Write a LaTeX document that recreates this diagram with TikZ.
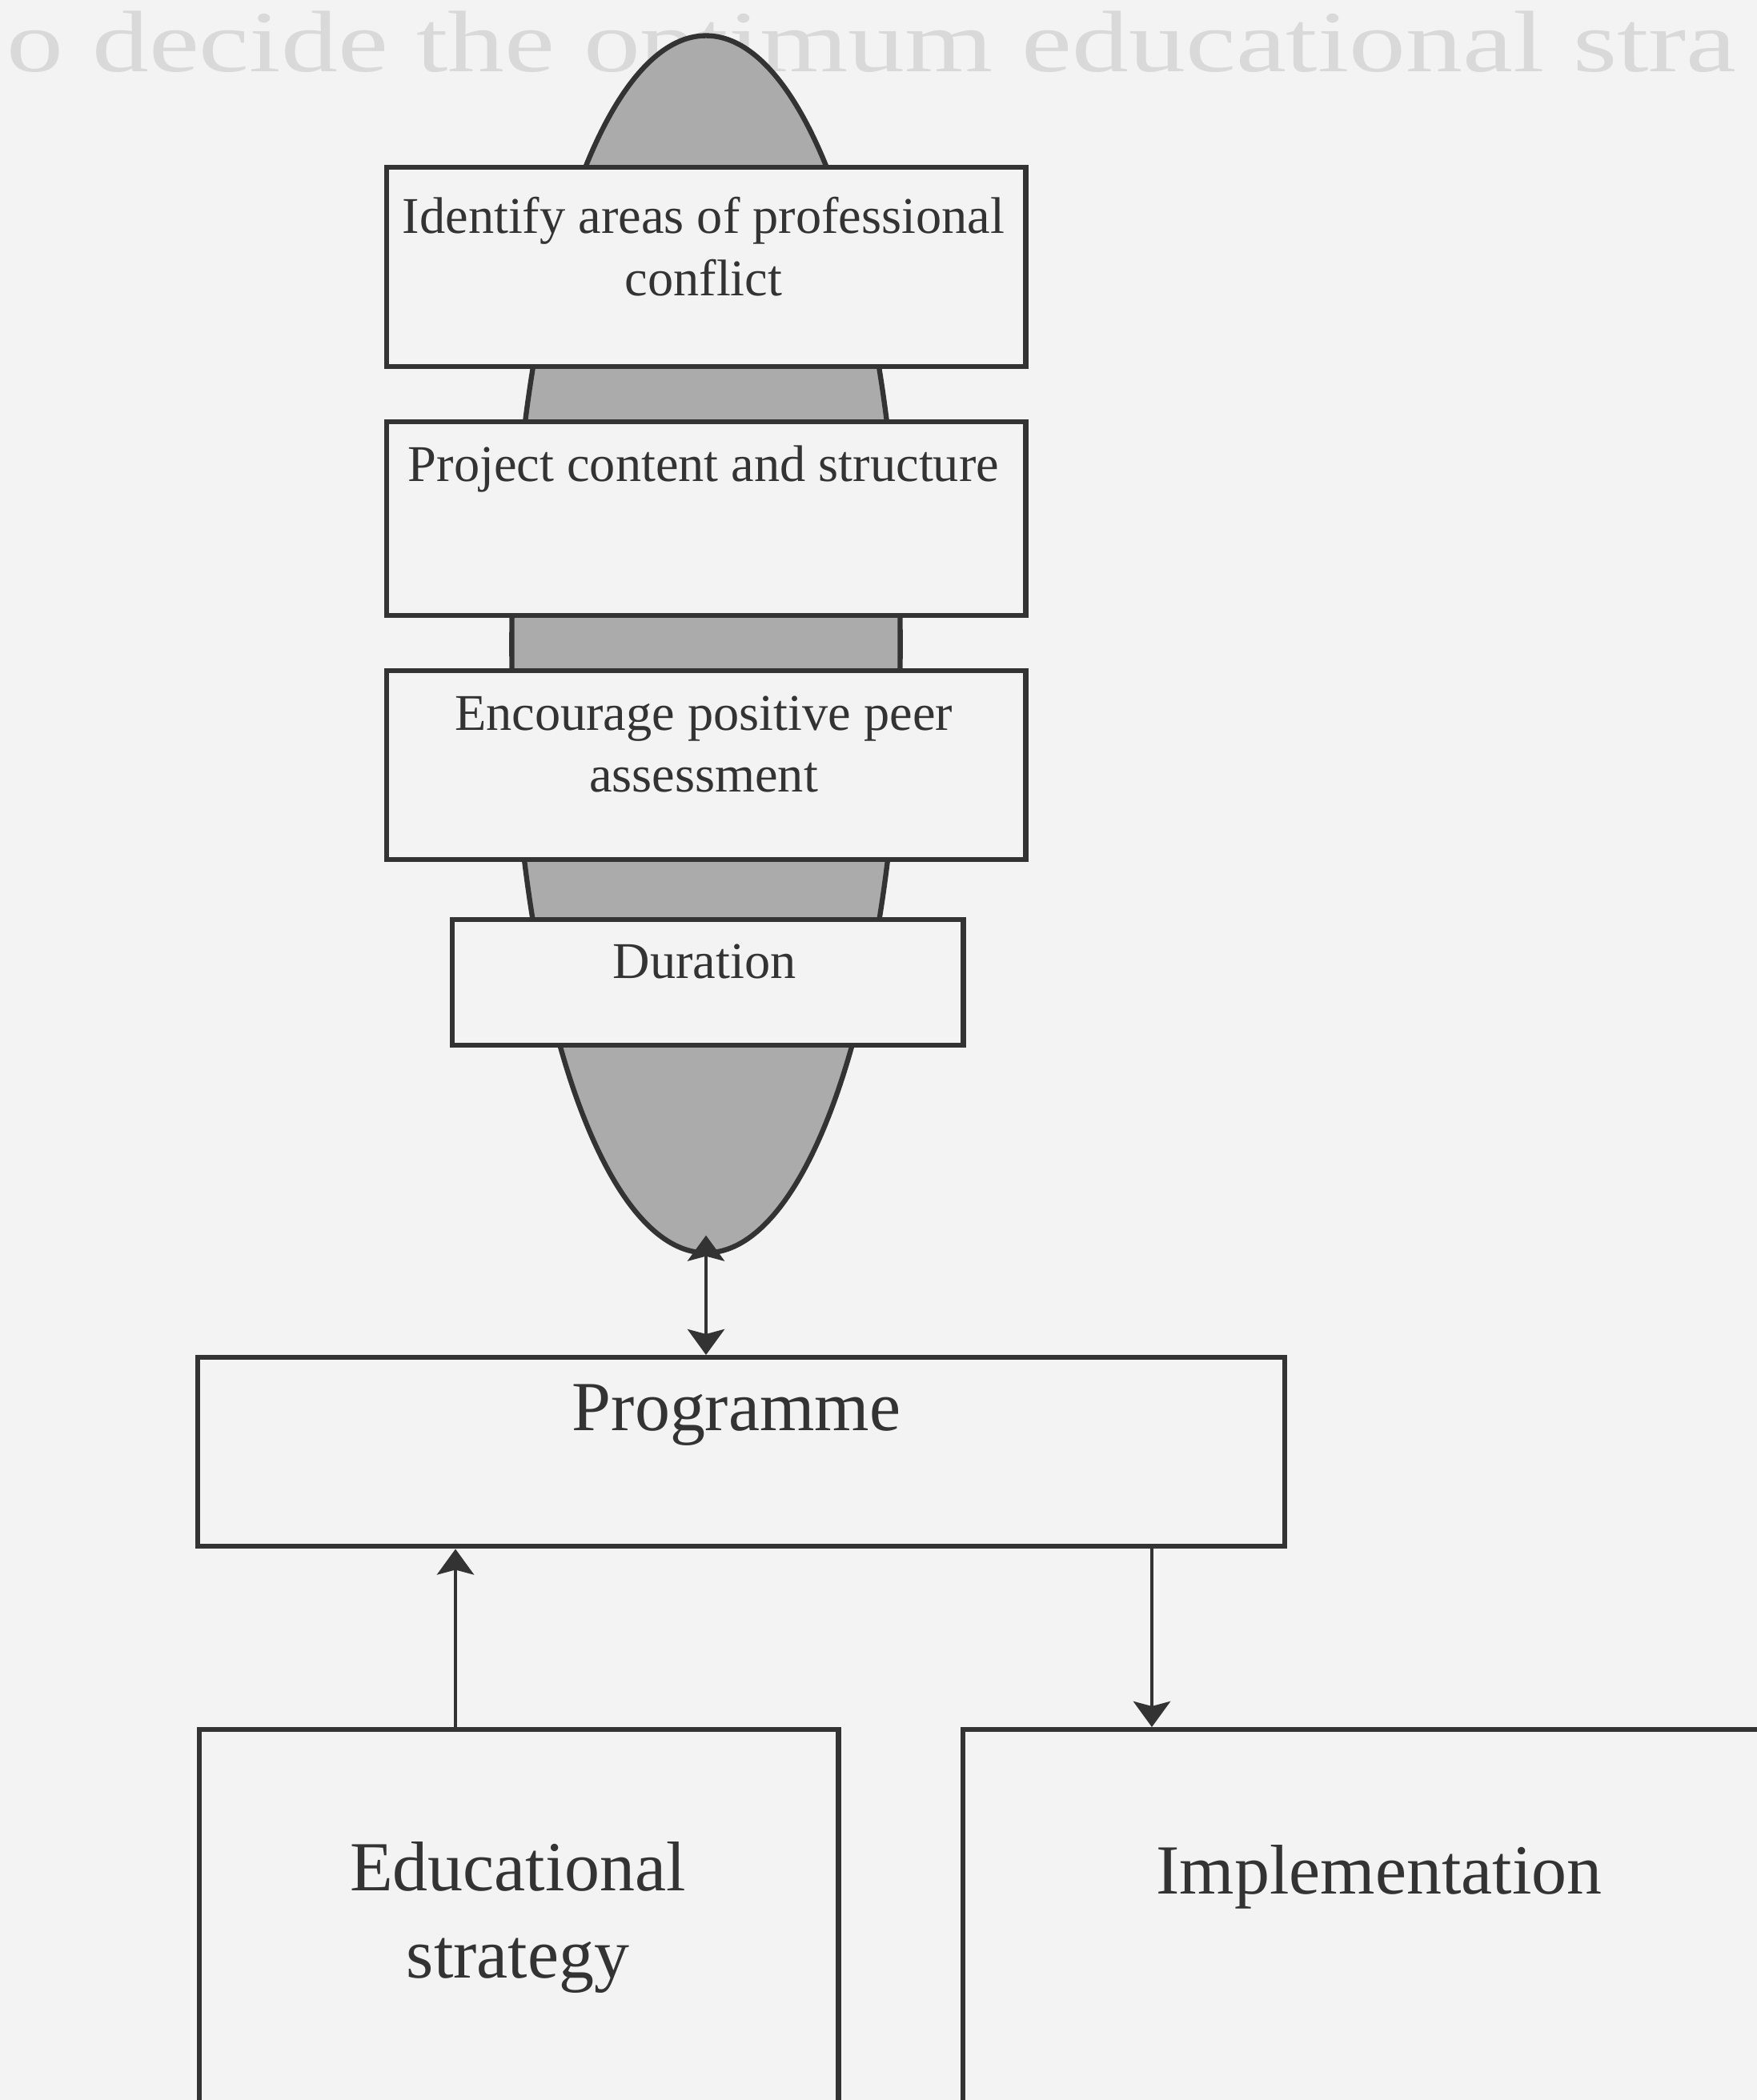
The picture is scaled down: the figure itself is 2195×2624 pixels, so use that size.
\documentclass[tikz,border=0pt]{standalone}
\usepackage{fontspec}
\setmainfont{Liberation Serif}
\usetikzlibrary{shapes.geometric,arrows.meta}
\definecolor{pagebg}{HTML}{F3F3F3}
\definecolor{ink}{HTML}{333333}
\definecolor{shade}{HTML}{ABABAB}
\definecolor{ghost}{HTML}{D9D9D9}
\begin{document}
\begin{tikzpicture}[x=0.01cm,y=-0.01cm,
 box/.style={draw=ink, line width=1.8pt, fill=pagebg, rectangle, inner sep=0pt, anchor=north west},
 small/.style={text=ink, font=\fontsize{18.3}{22}\selectfont, align=center, inner sep=0pt},
 large/.style={text=ink, font=\fontsize{25}{31}\selectfont, align=center, inner sep=0pt},
 arr/.style={draw=ink, line width=1.4pt, -{Stealth[length=0.32cm,width=0.46cm,inset=0.06cm]}},
 darr/.style={draw=ink, line width=1.4pt, {Stealth[length=0.32cm,width=0.46cm,inset=0.06cm]}-{Stealth[length=0.32cm,width=0.46cm,inset=0.06cm]}},
]
\fill[pagebg] (0,0) rectangle (2195,2624);
\useasboundingbox (0,0) rectangle (2195,2624);
\clip (0,0) rectangle (2195,2624);
% faint text at the top of the page
\node[anchor=base west, text=ghost, font=\fontsize{31}{34}\selectfont, inner sep=0pt, xscale=1.3, transform shape] (toptext) at (8,90) {o decide the optimum educational stra};
% shaded ellipse
\node[ellipse, draw=ink, line width=1.8pt, fill=shade, minimum width=4.85cm, minimum height=15.2cm, inner sep=0pt] (ell) at (882,805) {};
% stacked boxes
\node[box, minimum width=7.98cm, minimum height=2.49cm] (b1) at (480,206) {};
\node[small] (t1) at (879,308) {Identify areas of professional\\conflict};
\node[box, minimum width=7.98cm, minimum height=2.42cm] (b2) at (480,524) {};
\node[small] (t2) at (879,586) {Project content and structure};
\node[box, minimum width=7.98cm, minimum height=2.36cm] (b3) at (480,835) {};
\node[small] (t3) at (879,930) {Encourage positive peer\\assessment};
\node[box, minimum width=6.38cm, minimum height=1.57cm] (b4) at (562,1146) {};
\node[small] (t4) at (880,1201) {Duration};
% programme
\node[box, minimum width=13.57cm, minimum height=2.36cm] (prog) at (244,1693) {};
\node[large] (tprog) at (920,1768) {Programme};
% bottom boxes
\node[box, minimum width=7.98cm, minimum height=6cm] (edu) at (246,2158) {};
\node[large] (tedu) at (647,2396) {Educational\\strategy};
\node[box, minimum width=12cm, minimum height=6cm] (impl) at (1200,2158) {};
\node[large] (timpl) at (1723,2345) {Implementation};
% connectors
\coordinate (xa) at (569,0);
\coordinate (xb) at (1439,0);
\draw[darr] ([yshift=0.25cm]ell.south) -- (ell.south |- prog.north);
\draw[arr] (edu.north -| xa) -- (prog.south -| xa);
\draw[arr] (prog.south -| xb) -- (impl.north -| xb);
\end{tikzpicture}
\end{document}
